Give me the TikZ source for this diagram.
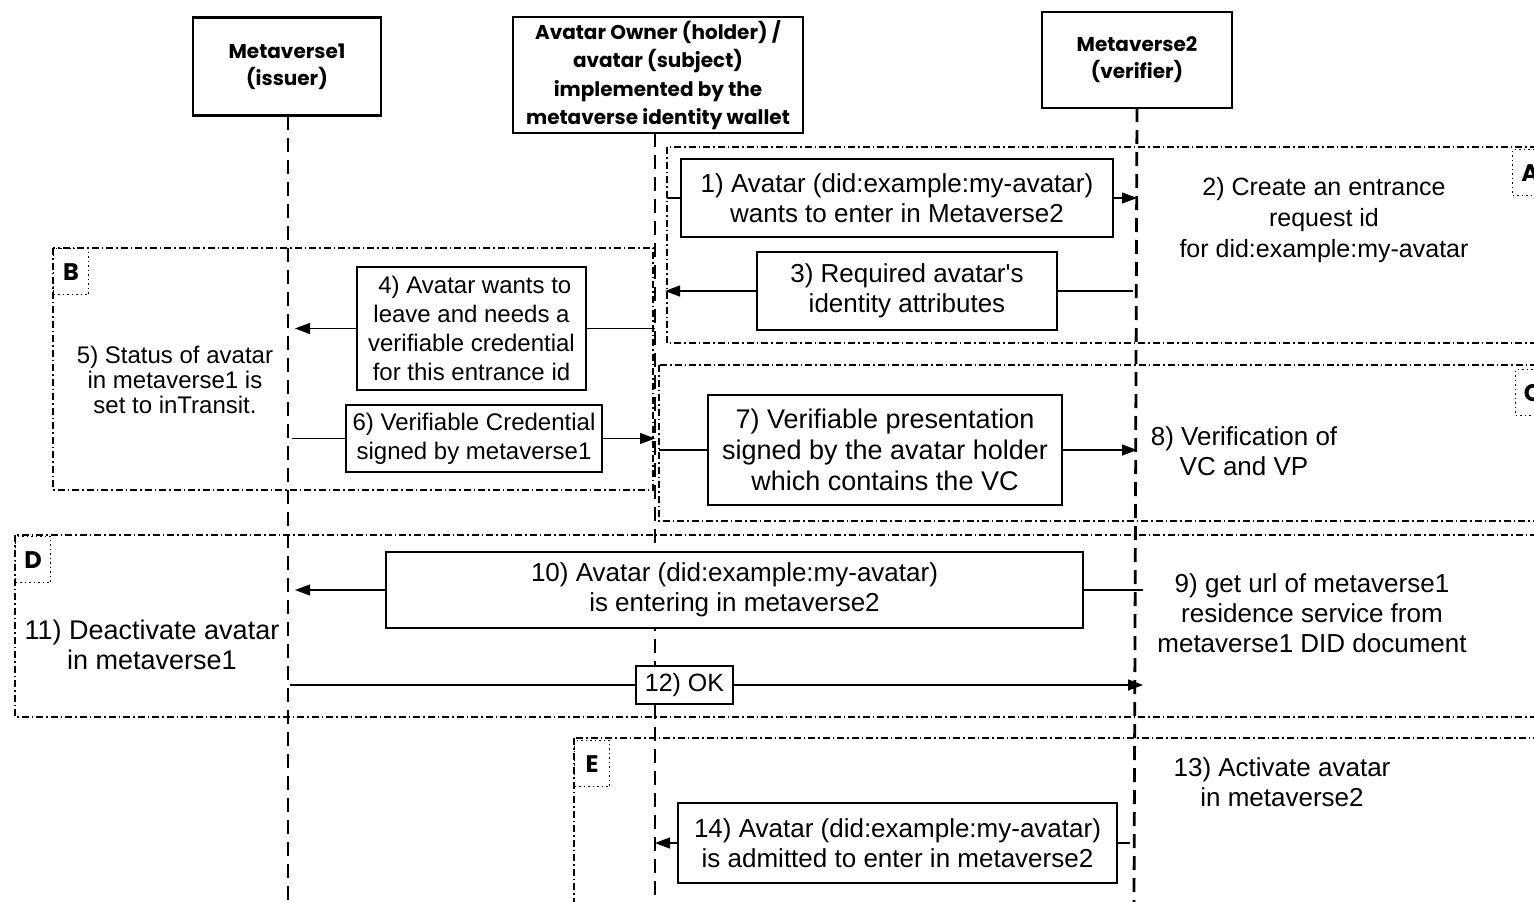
\documentclass[tikz,border=0pt]{standalone}
\usepackage{fontspec}
\setmainfont{Liberation Sans}[Ligatures=TeXOff]
\newfontfamily\headfont{Poppins}
\usetikzlibrary{arrows.meta}

\begin{document}
\begin{tikzpicture}[x=1pt,y=-1pt,
  lifeline/.style={line width=2.8pt, dash pattern=on 14pt off 8pt},
  frame/.style={line width=1.2pt, dash pattern=on 7pt off 3pt on 1.5pt off 3pt},
  tagbox/.style={draw, line width=1.2pt, dash pattern=on 1.5pt off 3pt,
    minimum width=35pt, minimum height=46pt, inner sep=0pt, anchor=north west,
    font=\headfont\bfseries\fontsize{24}{26}\selectfont},
  actor/.style={draw, line width=2.2pt, fill=white, align=center, inner sep=0pt,
    font=\headfont\bfseries\fontsize{20}{27}\selectfont},
  msg/.style={draw, line width=1.3pt, fill=white, align=center, inner sep=0pt,
    font=\fontsize{26}{30}\selectfont},
  msgsmall/.style={msg, font=\fontsize{24}{29}\selectfont},
  note/.style={align=center, inner sep=0pt, font=\fontsize{26}{30}\selectfont},
  call/.style={line width=1.3pt, -{Triangle[length=15pt,width=11pt]}},
  plain/.style={line width=1.3pt}]

\clip (0,0) rectangle (1534,902);
\fill[white] (0,0) rectangle (1534,902);

% phase frames
\draw[frame] (667,147) rectangle (1580,343);
\draw[frame] (53,248) rectangle (653,490);
\draw[frame] (659,365) rectangle (1580,521);
\draw[frame] (15,535) rectangle (1580,717);
\draw[frame] (574,738) rectangle (1580,940);
\node[tagbox] (tA) at (1512,149) {A};
\node[tagbox] (tB) at (53,248) {B};
\node[tagbox] (tC) at (1515,369) {C};
\node[tagbox] (tD) at (15,536) {D};
\node[tagbox] (tE) at (574,740) {E};

% participants
\node[actor, minimum width=188pt, minimum height=98pt] (h1) at (287,66.5)
  {Metaverse1\\(issuer)};
\node[actor, minimum width=290pt, minimum height=116pt, font=\headfont\bfseries\fontsize{20}{28.5}\selectfont] (h2) at (658,75)
  {Avatar Owner (holder) /\\avatar (subject)\\implemented by the\\metaverse identity wallet};
\node[actor, minimum width=190pt, minimum height=96pt] (h3) at (1137,60)
  {Metaverse2\\(verifier)};

% lifelines
\coordinate (L1) at (288,116);
\coordinate (L2) at (655,133);
\coordinate (L3) at (1137,108);
\coordinate (E1) at (288,902);
\coordinate (E2) at (655,902);
\coordinate (E3) at (1134,902);
\draw[lifeline] (L1) -- (E1);
\draw[lifeline] (L2) -- (E2);
\draw[lifeline] (L3) -- (E3);

% messages
\node[msg, minimum width=432pt, minimum height=78pt] (m1) at (897,198)
  {1) Avatar (did:example:my-avatar)\\wants to enter in Metaverse2};
\node[msg, minimum width=300pt, minimum height=78pt] (m3) at (907,291)
  {3) Required avatar's\\identity attributes};
\node[msgsmall, minimum width=229pt, minimum height=123pt] (m4) at (471.5,328.5)
  {\ 4) Avatar wants to\\leave and needs a\\verifiable credential\\for this entrance id};
\node[msgsmall, minimum width=256pt, minimum height=67pt] (m6) at (474,438.5)
  {6) Verifiable Credential\\signed by metaverse1};
\node[msg, minimum width=354pt, minimum height=110pt, font=\fontsize{27}{31}\selectfont] (m7) at (885,450)
  {7) Verifiable presentation\\signed by the avatar holder\\which contains the VC};
\node[msg, minimum width=697pt, minimum height=76pt] (m10) at (734.5,590)
  {10) Avatar (did:example:my-avatar)\\is entering in metaverse2};
\node[msg, minimum width=97pt, minimum height=38pt, font=\fontsize{25}{30}\selectfont] (m12) at (684.5,685)
  {12) OK};
\node[msg, minimum width=439pt, minimum height=80pt] (m14) at (897.5,843)
  {14) Avatar (did:example:my-avatar)\\is admitted to enter in metaverse2};

% local steps
\node[note, font=\fontsize{25}{31}\selectfont] (t2) at (1324,220)
  {2) Create an entrance\\request id\\for did:example:my-avatar};
\node[note, font=\fontsize{24}{25}\selectfont] (t5) at (175,380)
  {5) Status of avatar\\in metaverse1 is\\set to inTransit.};
\node[note] (t8) at (1244,451) {8) Verification of\\VC and VP};
\node[note] (t9) at (1312,613)
  {9) get url of metaverse1\\residence service from\\metaverse1 DID document};
\node[note, font=\fontsize{27}{30}\selectfont] (t11) at (152,645)
  {11) Deactivate avatar\\in metaverse1};
\node[note] (t13) at (1282,782) {13) Activate avatar\\in metaverse2};

% connectors
\draw[plain] ([xshift=12pt]m1.west -| L2) -- (m1.west);
\draw[call] (m1.east) -- (m1.east -| L3);
\draw[plain] ([xshift=-4pt]m3.east -| L3) -- (m3.east);
\draw[call] (m3.west) -- ([xshift=10pt]m3.west -| L2);
\draw[plain] (m4.east -| L2) -- (m4.east);
\draw[call] (m4.west) -- ([xshift=7pt]m4.west -| L1);
\draw[plain] ([xshift=4pt]m6.west -| L1) -- (m6.west);
\draw[call] (m6.east) -- (m6.east -| L2);
\draw[plain] ([xshift=4pt]m7.west -| L2) -- (m7.west);
\draw[call] (m7.east) -- (m7.east -| L3);
\draw[plain] ([xshift=6pt]m10.east -| L3) -- (m10.east);
\draw[call] (m10.west) -- ([xshift=7pt]m10.west -| L1);
\draw[plain] ([xshift=2pt]m12.west -| L1) -- (m12.west);
\draw[call] (m12.east) -- ([xshift=6pt]m12.east -| L3);
\draw[plain] ([xshift=-7pt]m14.east -| L3) -- (m14.east);
\draw[call] (m14.west) -- (m14.west -| L2);
\end{tikzpicture}
\end{document}
